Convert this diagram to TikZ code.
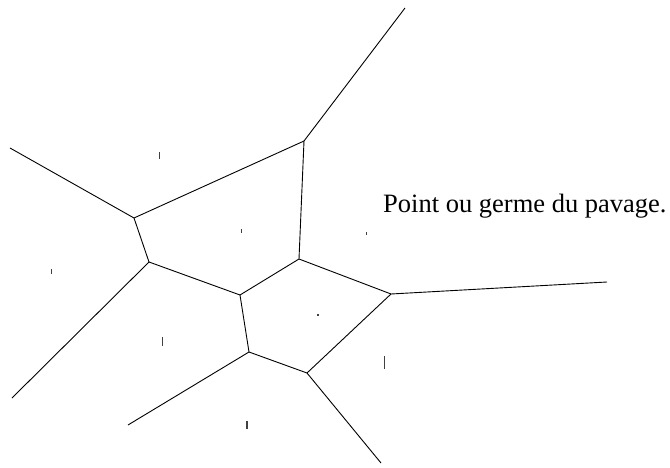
\documentclass[tikz,border=0pt]{standalone}
\usepackage{fontspec}
\setmainfont{Liberation Serif}
\begin{document}
\begin{tikzpicture}[x=1pt,y=-1pt,
  edge/.style={draw=black,line width=0.9pt},
  germ/.style={draw=black!75,line width=1.1pt}]
\useasboundingbox (0,0) rectangle (670,468);
% vertices
\coordinate (A) at (304,141);
\coordinate (B) at (134,218);
\coordinate (C) at (149,262);
\coordinate (D) at (240,295);
\coordinate (E) at (299,259);
\coordinate (G) at (391,294);
\coordinate (H) at (307,373);
\coordinate (F) at (249,352);
% free ends
\coordinate (eA) at (405,8);
\coordinate (eB) at (10,148);
\coordinate (eC) at (12,398);
\coordinate (eG) at (607,282);
\coordinate (eH) at (381,463);
\coordinate (eF) at (128,425);
% edges
\draw[edge] (eA) -- (A);
\draw[edge] (A) -- (B);
\draw[edge] (A) -- (E);
\draw[edge] (eB) -- (B);
\draw[edge] (B) -- (C);
\draw[edge] (C) -- (eC);
\draw[edge] (C) -- (D);
\draw[edge] (D) -- (E);
\draw[edge] (D) -- (F);
\draw[edge] (E) -- (G);
\draw[edge] (G) -- (eG);
\draw[edge] (G) -- (H);
\draw[edge] (H) -- (eH);
\draw[edge] (H) -- (F);
\draw[edge] (F) -- (eF);
% germs
\draw[germ] (159.5,152) -- (159.5,159);
\draw[germ] (241.5,229) -- (241.5,233);
\draw[germ] (51.5,269) -- (51.5,274);
\draw[germ] (366.5,232) -- (366.5,235);
\draw[germ] (317,315) -- (319,315);
\draw[germ] (162.5,337) -- (162.5,346);
\draw[germ] (384.5,356) -- (384.5,369);
\draw[germ] (247,421) -- (247,429);
% label
\node[anchor=base west,inner sep=0pt,font=\fontsize{26.5}{30}\selectfont] (lbl) at (383,212) {Point ou germe du pavage.};
\end{tikzpicture}
\end{document}
